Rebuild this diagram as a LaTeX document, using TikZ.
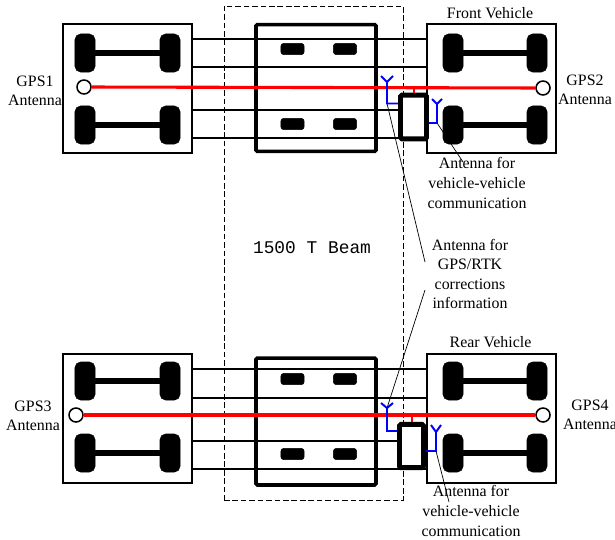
\documentclass[tikz,border=0pt]{standalone}
\usepackage{fontspec}
\setmainfont{Liberation Serif}
\setmonofont{Liberation Mono}
\tikzset{
  bodybox/.style={draw=black, line width=1.1pt, minimum width=3.225cm, minimum height=3.225cm, inner sep=0pt},
  deckbox/.style={draw=black, line width=2.6pt, rounded corners=1pt, minimum width=3cm, minimum height=3.17cm, inner sep=0pt},
  wheel/.style={draw=black, fill=black, rectangle, rounded corners=4pt, minimum width=0.5cm, minimum height=0.95cm, inner sep=0pt},
  pad/.style={draw=black, fill=black, rectangle, rounded corners=2pt, minimum width=0.58cm, minimum height=0.28cm, inner sep=0pt},
  axle/.style={draw=black, line width=4pt},
  tie/.style={draw=black, line width=1.2pt},
  gpsdot/.style={draw=black, fill=white, line width=1.1pt, circle, minimum size=0.35cm, inner sep=0pt},
  redline/.style={draw=red, line width=2.2pt},
  blueline/.style={draw=blue, line width=1.4pt},
  leader/.style={draw=black, line width=0.5pt},
  ctrlbox/.style={draw=black, fill=white, line width=3.5pt, rounded corners=1pt, inner sep=0pt},
  lbl/.style={font=\fontsize{11.3}{13.9}\selectfont, align=center, inner sep=0pt}
}
\begin{document}
\begin{tikzpicture}[x=0.025cm, y=-0.025cm]
      \useasboundingbox (0,0) rectangle (615,539);
      % beam
      \node[draw=black, dash pattern=on 4pt off 2pt, line width=0.5pt, minimum width=4.475cm, minimum height=12.35cm, inner sep=0pt] (beam) at (313.5,253) {};
      \node[font=\ttfamily\fontsize{12.7}{14}\selectfont, inner sep=0pt] (beamtext) at (312,248) {1500 T Beam};
      % front vehicle
      \node[bodybox] (FL) at (127.5,88.5) {};
      \node[deckbox] (FC) at (316,88) {};
      \node[bodybox] (FR) at (491.5,88.5) {};
      \foreach \yy in {39,67,110,138} {
        \coordinate (fa\yy) at (192,\yy);
        \coordinate (fb\yy) at (427,\yy);
        \draw[tie] (fa\yy) -- (fb\yy);
      }
      % rear vehicle
      \node[bodybox] (RL) at (127.5,418.5) {};
      \node[deckbox] (RC) at (316,421.5) {};
      \node[bodybox] (RR) at (491.5,418.5) {};
      \foreach \yy in {369,398,441,469} {
        \coordinate (ra\yy) at (192,\yy);
        \coordinate (rb\yy) at (427,\yy);
        \draw[tie] (ra\yy) -- (rb\yy);
      }
      % wheels and axles
      \foreach \bx/\xa/\xb/\ya/\yb in {f/85/170/53/125, g/453/537/53/125, h/85/170/381/453, k/453/537/381/453} {
        \node[wheel] (\bx a) at (\xa,\ya) {};
        \node[wheel] (\bx b) at (\xb,\ya) {};
        \node[wheel] (\bx c) at (\xa,\yb) {};
        \node[wheel] (\bx d) at (\xb,\yb) {};
        \draw[axle] (\bx a) -- (\bx b);
        \draw[axle] (\bx c) -- (\bx d);
      }
      % pads
      \foreach \px/\py in {292.5/49, 345/49, 292.5/124, 345/124, 292.5/379, 345/379, 292.5/454, 345/454} {
        \node[pad] at (\px,\py) {};
      }
      % gps
      \node[gpsdot] (G1) at (84,87) {};
      \node[gpsdot] (G2) at (543,88) {};
      \node[gpsdot] (G3) at (76,415) {};
      \node[gpsdot] (G4) at (543,415) {};
      \draw[redline] (G1) -- (G2);
      \draw[redline] (G3) -- (G4);
      \node[lbl] (G1text) at (35,91) {GPS1\\Antenna};
      \node[lbl] (G2text) at (585,90) {GPS2\\Antenna};
      \node[lbl] (G3text) at (33,416) {GPS3\\Antenna};
      \node[lbl] (G4text) at (590,415) {GPS4\\Antenna};
      % controllers
      \node[ctrlbox, minimum width=0.65cm, minimum height=1.09cm] (C1) at (413.5,117) {};
      \node[ctrlbox, minimum width=0.6cm, minimum height=1.08cm] (C2) at (411.5,446) {};
      \coordinate (s1) at (414,88);
      \coordinate (s2) at (412,414);
      \draw[red, line width=2pt] (s1) -- (s1 |- C1.north);
      \draw[red, line width=2pt] (s2) -- (s2 |- C2.north);
      % antennas
      \coordinate (a1) at (387,82);
      \coordinate (a1b) at (387,103.5);
      \draw[blueline] (381,76) -- (a1) -- (393,76) (a1) -- (a1b) -- (C1.west |- a1b);
      \coordinate (a2) at (437,104);
      \coordinate (a2b) at (437,123);
      \draw[blueline] (432,99) -- (a2) -- (442,99) (a2) -- (a2b) -- (C1.east |- a2b);
      \coordinate (a3) at (387,408);
      \coordinate (a3b) at (387,431);
      \draw[blueline] (381,403) -- (a3) -- (393,403) (a3) -- (a3b) -- (C2.west |- a3b);
      \coordinate (a4) at (436,432);
      \coordinate (a4b) at (436,451);
      \draw[blueline] (431,425) -- (a4) -- (441,425) (a4) -- (a4b) -- (C2.east |- a4b);
      % labels
      \node[lbl] (frontv) at (490,13) {Front Vehicle};
      \node[lbl] (rearv) at (490.5,342) {Rear Vehicle};
      \node[lbl] (comm1) at (477,183) {Antenna for\\vehicle-vehicle\\communication};
      \node[lbl] (gpsrtk) at (470,274) {Antenna for\\GPS/RTK\\corrections\\information};
      \node[lbl] (comm2) at (471,511) {Antenna for\\vehicle-vehicle\\communication};
      \coordinate (l1) at (425,262);
      \coordinate (l2) at (425,290);
      \coordinate (l3) at (463,162);
      \coordinate (l4) at (449,502);
      \draw[leader] (a1b) -- (l1);
      \draw[leader] (a3) -- (l2);
      \draw[leader] (a2b) -- (l3);
      \draw[leader] (a4b) -- (l4);
\end{tikzpicture}
\end{document}
